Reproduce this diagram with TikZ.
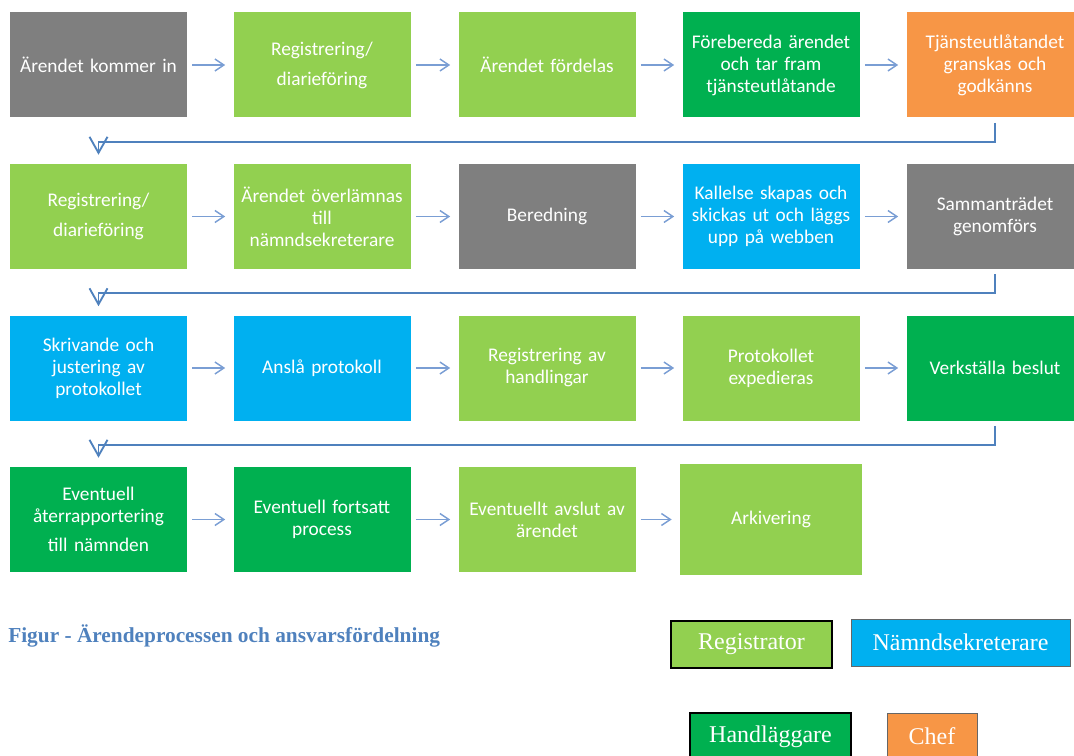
\documentclass[tikz,border=0pt]{standalone}
\usepackage{fontspec}
\setmainfont{Carlito}
\newfontfamily\legendfont{Liberation Serif}
\usepackage{tikz}
\usetikzlibrary{arrows.meta}

\definecolor{boxgrey}{RGB}{127,127,127}
\definecolor{reggreen}{RGB}{146,208,80}
\definecolor{handgreen}{RGB}{0,176,80}
\definecolor{sekblue}{RGB}{0,176,240}
\definecolor{cheforange}{RGB}{247,150,70}
\definecolor{arrowblue}{RGB}{122,158,212}
\definecolor{turnblue}{RGB}{79,129,189}

\begin{document}
\begin{tikzpicture}[x=0.75pt,y=0.75pt,yscale=-1,xscale=1,
              box/.style={minimum width=132.75pt,minimum height=78.75pt,inner sep=0pt,text width=130pt,align=center,text=white,font=\fontsize{14.5}{16.5}\selectfont},
              greybox/.style={box,fill=boxgrey},
              regbox/.style={box,fill=reggreen},
              handbox/.style={box,fill=handgreen},
              sekbox/.style={box,fill=sekblue},
              chefbox/.style={box,fill=cheforange},
              harrow/.style={draw=arrowblue,line width=1.1pt,-{Straight Barb[length=6.75pt,width=9pt]},shorten <=3.75pt,shorten >=6pt},
              turn/.style={draw=turnblue,line width=1.4pt,-{Straight Barb[length=12pt,width=13.5pt]},shorten <=3.75pt,shorten >=6.75pt},
              legend/.style={minimum height=35.25pt,inner sep=0pt,text=white,font=\legendfont\fontsize{18}{20}\selectfont},
              strong/.style={draw=black,line width=1pt},
              thin/.style={draw=black!60,line width=0.6pt}]
              \useasboundingbox (0,0) rectangle (1074,756);

              \node[greybox] (a1) at (98.5,65) {Ärendet kommer in};
              \node[regbox] (a2) at (322,65) {Registrering/\\[6pt]diarieföring};
              \node[regbox] (a3) at (547,65) {Ärendet fördelas};
              \node[handbox] (a4) at (771,65) {Förebereda ärendet\\och tar fram\\tjänsteutlåtande};
              \node[chefbox] (a5) at (995,65) {Tjänsteutlåtandet\\granskas och\\godkänns};

              \node[regbox] (b1) at (98.5,216.5) {Registrering/\\[6pt]diarieföring};
              \node[regbox] (b2) at (322,216.5) {Ärendet överlämnas\\till\\nämndsekreterare};
              \node[greybox] (b3) at (547,216.5) {Beredning};
              \node[sekbox] (b4) at (771,216.5) {Kallelse skapas och\\skickas ut och läggs\\upp på webben};
              \node[greybox] (b5) at (995,216.5) {Sammanträdet\\genomförs};

              \node[sekbox] (c1) at (98.5,368) {Skrivande och\\justering av\\protokollet};
              \node[sekbox] (c2) at (322,368) {Anslå protokoll};
              \node[regbox] (c3) at (547,368) {Registrering av\\handlingar};
              \node[regbox] (c4) at (771,368) {Protokollet\\expedieras};
              \node[handbox] (c5) at (995,368) {Verkställa beslut};

              \node[handbox] (d1) at (98.5,519.5) {Eventuell\\återrapportering\\[5pt]till nämnden};
              \node[handbox] (d2) at (322,519.5) {Eventuell fortsatt\\process};
              \node[regbox] (d3) at (547,519.5) {Eventuellt avslut av\\ärendet};
              \node[regbox,minimum width=136.5pt,minimum height=83.25pt] (d4) at (771,519.5) {Arkivering};

              \draw[harrow] (a1) -- (a2);
              \draw[harrow] (a2) -- (a3);
              \draw[harrow] (a3) -- (a4);
              \draw[harrow] (a4) -- (a5);
              \draw[turn] (a5.south) -- ++(0,24) -| (b1.north);
              \draw[harrow] (b1) -- (b2);
              \draw[harrow] (b2) -- (b3);
              \draw[harrow] (b3) -- (b4);
              \draw[harrow] (b4) -- (b5);
              \draw[turn] (b5.south) -- ++(0,24) -| (c1.north);
              \draw[harrow] (c1) -- (c2);
              \draw[harrow] (c2) -- (c3);
              \draw[harrow] (c3) -- (c4);
              \draw[harrow] (c4) -- (c5);
              \draw[turn] (c5.south) -- ++(0,24) -| (d1.north);
              \draw[harrow] (d1) -- (d2);
              \draw[harrow] (d2) -- (d3);
              \draw[harrow] (d3) -- (d4);

              \node[anchor=base west,inner sep=0pt,text=turnblue,font=\legendfont\bfseries\fontsize{16}{18}\selectfont] (figcap) at (8,642) {Figur - Ärendeprocessen och ansvarsfördelning};
              \node[legend,strong,fill=reggreen,minimum width=120.75pt] (reg) at (751.5,644.5) {Registrator};
              \node[legend,thin,fill=sekblue,minimum width=164.25pt] (sek) at (960.5,642.5) {Nämndsekreterare};
              \node[legend,strong,fill=handgreen,minimum width=120.75pt] (hand) at (770.5,736.5) {Handläggare};
              \node[legend,thin,fill=cheforange,minimum width=67.5pt] (chef) at (932,736.5) {Chef};
            \end{tikzpicture}
\end{document}
